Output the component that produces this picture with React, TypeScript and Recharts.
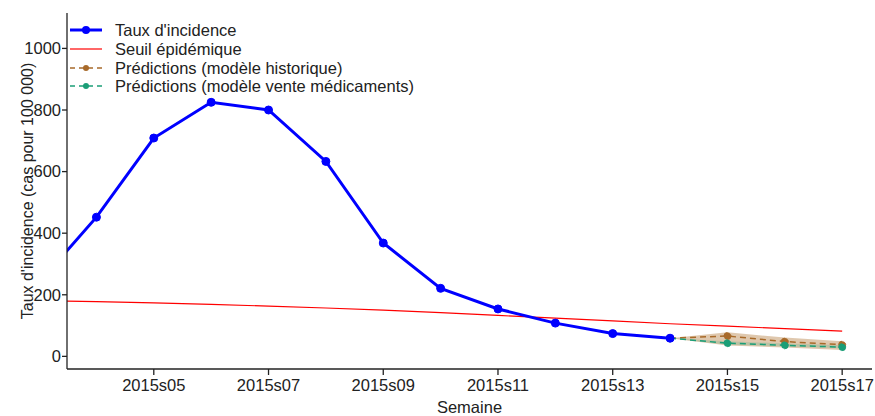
import { ComposedChart, Line, Area, XAxis, YAxis, Legend } from "recharts";

// weekly incidence, 2015 weeks 3..17
const weeks = [3, 4, 5, 6, 7, 8, 9, 10, 11, 12, 13, 14, 15, 16, 17];
const incidence = [240, 452, 709, 825, 800, 633, 368, 221, 154, 108, 74, 59, null, null, null];
const seuil = [181, 178, 174, 169, 163, 157, 150, 142, 133, 124, 115, 106, 98, 90, 82];
const predHist = [null, null, null, null, null, null, null, null, null, null, null, 59, 66, 48, 38];
const predMed = [null, null, null, null, null, null, null, null, null, null, null, 59, 43, 36, 30];
const histLow = [null, null, null, null, null, null, null, null, null, null, null, 59, 35, 29, 21];
const histHigh = [null, null, null, null, null, null, null, null, null, null, null, 59, 78, 61, 49];
const medLow = [null, null, null, null, null, null, null, null, null, null, null, 59, 38, 32, 26];
const medHigh = [null, null, null, null, null, null, null, null, null, null, null, 59, 49, 42, 36];

const xTicks = [5, 7, 9, 11, 13, 15, 17];
const yTicks = [0, 200, 400, 600, 800, 1000];

const legendItems = [
  { name: "Taux d'incidence", color: "#0000ff", width: 3, dash: undefined, dot: 4 },
  { name: "Seuil épidémique", color: "#ff0000", width: 1.2, dash: undefined, dot: 0 },
  { name: "Prédictions (modèle historique)", color: "#a86a2a", width: 1.5, dash: "5 4", dot: 3 },
  { name: "Prédictions (modèle vente médicaments)", color: "#1b9e77", width: 1.5, dash: "5 4", dot: 3 },
];

const data = weeks.map((w, i) => ({
  w,
  incidence: incidence[i],
  seuil: seuil[i],
  predHist: predHist[i],
  predMed: predMed[i],
  histBand: histLow[i] == null ? null : [histLow[i], histHigh[i]],
  medBand: medLow[i] == null ? null : [medLow[i], medHigh[i]],
}));

const FONT = "'Liberation Sans', Arial, sans-serif";
const INK = "#222";

function LegendBox() {
  return (
    <div style={{ fontFamily: FONT, fontSize: 16.5, color: INK }}>
      {legendItems.map((it) => (
        <div key={it.name} style={{ display: "flex", alignItems: "center", height: 18.7 }}>
          <svg width={45} height={14} style={{ flex: "none" }}>
            <line x1={0} x2={32} y1={7} y2={7} stroke={it.color} strokeWidth={it.width} strokeDasharray={it.dash} />
            {it.dot > 0 && <circle cx={16} cy={7} r={it.dot} fill={it.color} />}
          </svg>
          <span style={{ whiteSpace: "nowrap", lineHeight: "18px" }}>{it.name}</span>
        </div>
      ))}
    </div>
  );
}

export default function App() {
  return (
    <div style={{ position: "absolute", left: 0, top: 0, background: "#fff" }}>
      <ComposedChart
        width={875}
        height={416}
        data={data}
        margin={{ top: 13, right: 3, left: 0, bottom: 0 }}
      >
        <XAxis
          dataKey="w"
          type="number"
          domain={[3.487, 17.52]}
          allowDataOverflow
          ticks={xTicks}
          tickFormatter={(v) => `2015s${String(v).padStart(2, "0")}`}
          height={47}
          tickSize={6}
          tickMargin={4}
          stroke={INK}
          strokeWidth={1.3}
          tick={{ fill: INK, fontSize: 16.5, fontFamily: FONT }}
          label={{ value: "Semaine", position: "insideBottom", offset: 3, fill: INK, fontSize: 16.5, fontFamily: FONT }}
        />
        <YAxis
          type="number"
          domain={[-41, 1115]}
          allowDataOverflow
          ticks={yTicks}
          width={67}
          tickSize={5}
          tickMargin={1}
          stroke={INK}
          strokeWidth={1.3}
          tick={{ fill: INK, fontSize: 16.5, fontFamily: FONT }}
          label={{
            value: "Taux d'incidence (cas pour 100 000)",
            angle: -90,
            position: "insideLeft",
            offset: 27,
            style: { textAnchor: "middle" },
            fill: INK,
            fontSize: 16,
            fontFamily: FONT,
          }}
        />
        <Legend
          layout="vertical"
          align="center"
          verticalAlign="middle"
          wrapperStyle={{ left: 70, top: 21, width: 420 }}
          content={() => <LegendBox />}
        />
        <Area
          dataKey="histBand"
          stroke="none"
          fill="#c49a6c"
          fillOpacity={0.55}
          isAnimationActive={false}
          legendType="none"
        />
        <Area
          dataKey="medBand"
          stroke="none"
          fill="#1b9e77"
          fillOpacity={0.18}
          isAnimationActive={false}
          legendType="none"
        />
        <Line
          dataKey="seuil"
          stroke="#ff0000"
          strokeWidth={1.2}
          dot={false}
          isAnimationActive={false}
        />
        <Line
          dataKey="predHist"
          stroke="#a86a2a"
          strokeWidth={1.5}
          strokeDasharray="6 4"
          dot={{ r: 3.5, fill: "#a86a2a", stroke: "#a86a2a", strokeWidth: 1 }}
          isAnimationActive={false}
        />
        <Line
          dataKey="predMed"
          stroke="#1b9e77"
          strokeWidth={1.5}
          strokeDasharray="6 4"
          dot={{ r: 3.5, fill: "#1b9e77", stroke: "#1b9e77", strokeWidth: 1 }}
          isAnimationActive={false}
        />
        <Line
          dataKey="incidence"
          stroke="#0000ff"
          strokeWidth={3}
          dot={{ r: 4, fill: "#0000ff", stroke: "#0000ff", strokeWidth: 1 }}
          isAnimationActive={false}
        />
      </ComposedChart>
    </div>
  );
}
